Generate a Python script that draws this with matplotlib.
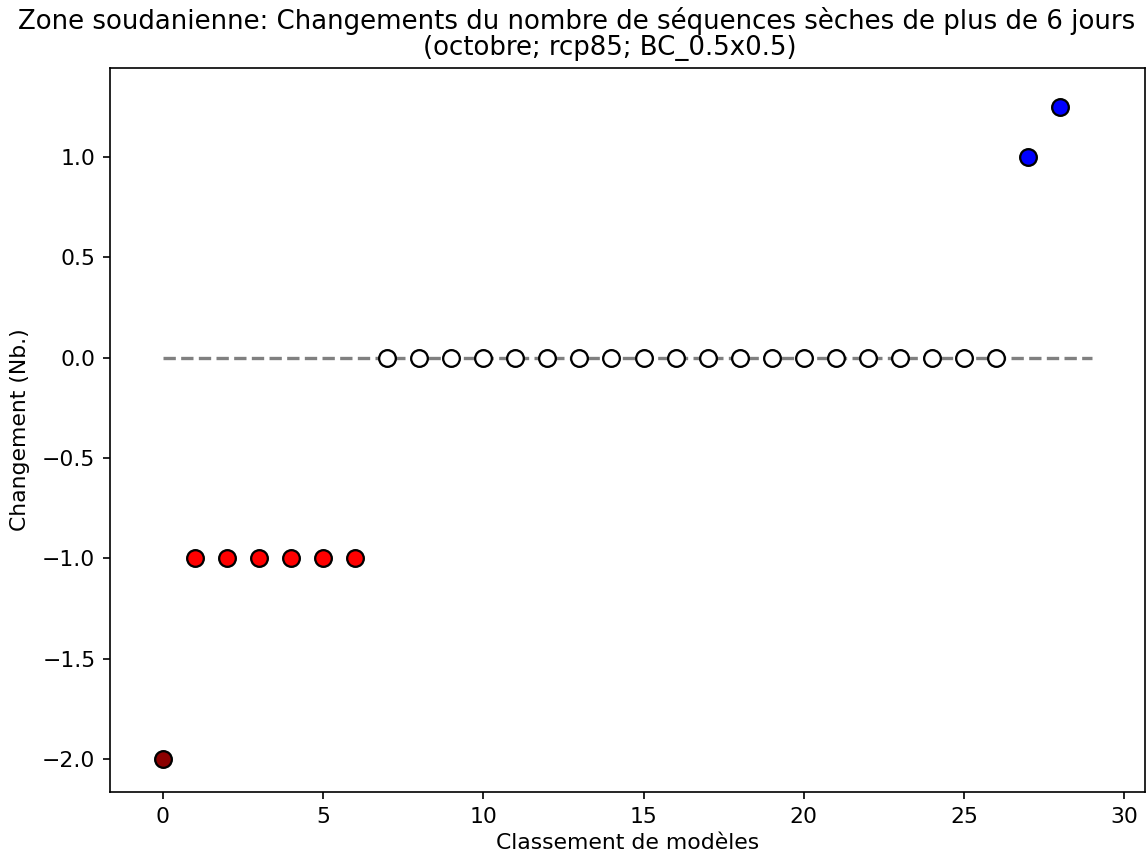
import numpy as np
import matplotlib
matplotlib.use("Agg")
import matplotlib.pyplot as plt

# model ranking and change values
rang = list(range(29))
changement = [-2.0] + [-1.0] * 6 + [0.0] * 20 + [1.0, 1.25]
couleurs = ["darkred"] + ["red"] * 6 + ["white"] * 20 + ["blue", "blue"]

titre = ("Zone soudanienne: Changements du nombre de séquences sèches de plus de 6 jours\n"
         + " " * 8 + "(octobre; rcp85; BC_0.5x0.5)")

plt.rcParams["font.size"] = 10.5

fig = plt.figure(figsize=(1146 / 150, 859 / 150), dpi=150)
ax = fig.add_axes([110 / 1146, 1 - 792 / 859, 1035 / 1146, 724 / 859])

ax.plot([0, 29], [0, 0], "--", color="gray", linewidth=1.6, zorder=1)
for x, y, c in zip(rang, changement, couleurs):
    ax.plot(x, y, "o", markersize=8, markerfacecolor=c, markeredgecolor="black",
            markeredgewidth=1.1, zorder=2)

ax.set_xlim(-1.65, 30.65)
ax.set_ylim(-2.164, 1.443)
ax.set_xticks([0, 5, 10, 15, 20, 25, 30])
ax.set_yticks([-2.0, -1.5, -1.0, -0.5, 0.0, 0.5, 1.0])
ax.set_yticklabels(["\u22122.0", "\u22121.5", "\u22121.0", "\u22120.5", "0.0", "0.5", "1.0"])
ax.set_xlabel("Classement de modèles", labelpad=3)
ax.set_ylabel("Changement (Nb.)", labelpad=6)

fig.text(577 / 1146, 1 - 34 / 859, titre, ha="center", va="center", fontsize=12.5,
         multialignment="center", linespacing=1.0)

fig.savefig("out.png", dpi=150)
